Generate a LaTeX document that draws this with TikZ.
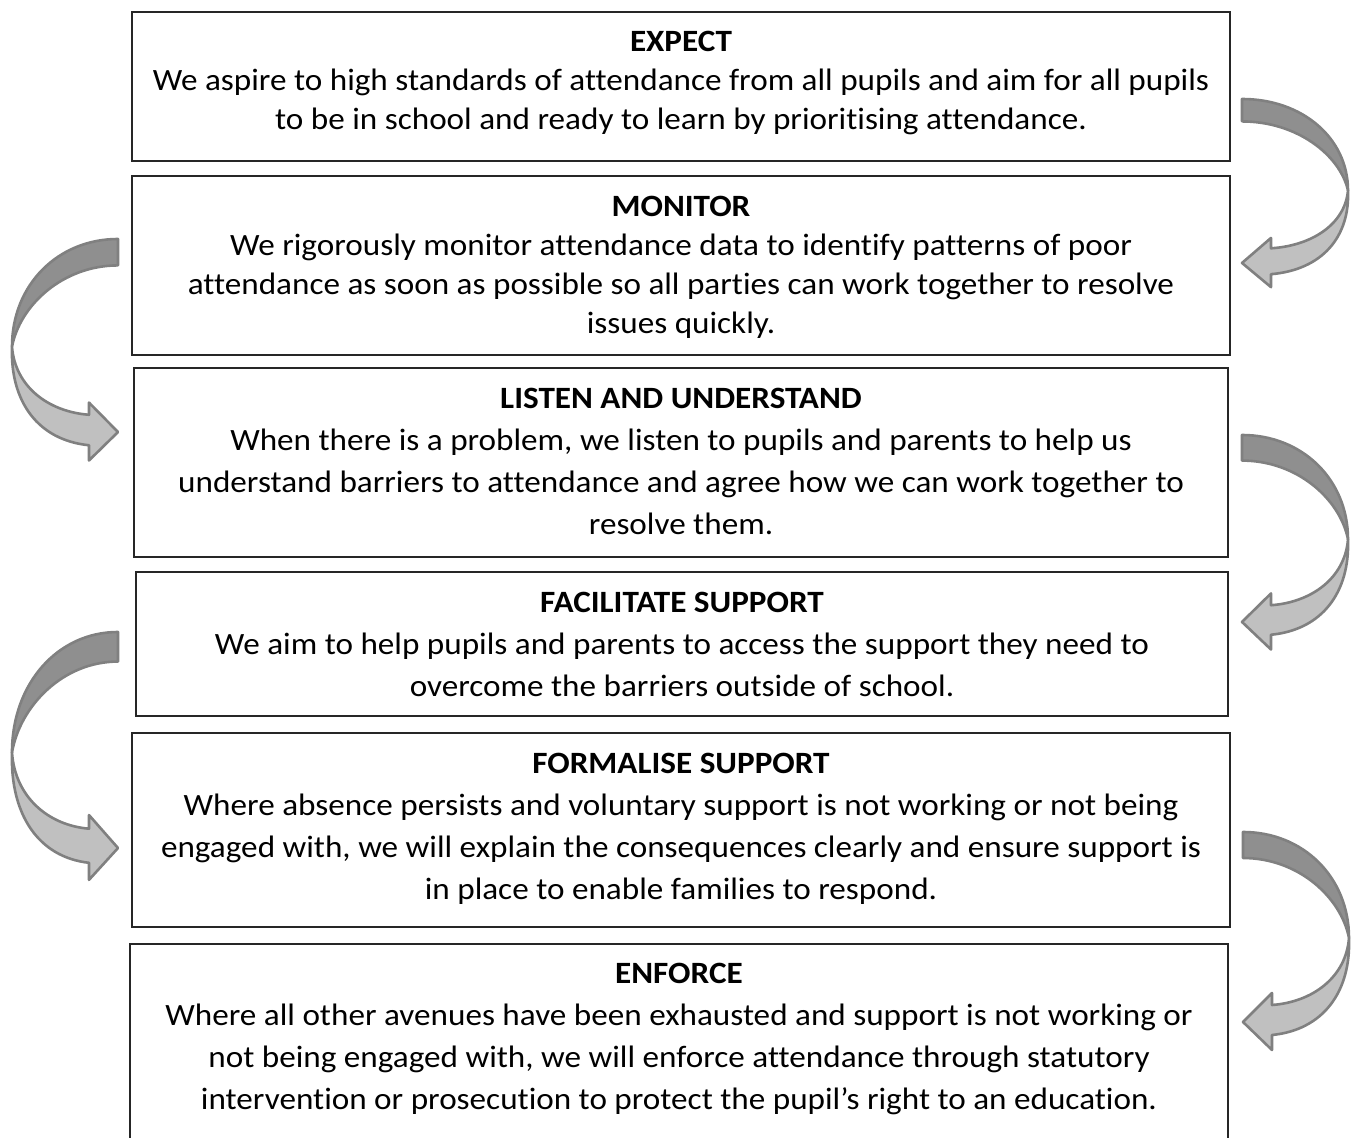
\documentclass[tikz,border=0pt]{standalone}
\usepackage{fontspec}
\setmainfont[FakeStretch=1.07, Ligatures=CommonOff]{Carlito}
\usepackage{tikz}
\usetikzlibrary{positioning}
\definecolor{arrowdark}{RGB}{143,143,143}
\definecolor{arrowlight}{RGB}{192,192,192}
\definecolor{arrowline}{RGB}{128,128,128}
\tikzset{stagebox/.style={draw=black!85, line width=0.6pt, rectangle, inner sep=0pt}}
\tikzset{stagetext/.style={align=center, inner sep=0pt, anchor=base, text=black}}
\tikzset{tight/.style={font=\fontsize{15.5}{19.5}\selectfont}}
\tikzset{loose/.style={font=\fontsize{15.5}{21}\selectfont}}
\tikzset{bendpart/.style={draw=arrowline, line width=1.3pt, line join=round}}
% #1 = +1 right side, -1 left side; #2 = tail top; #3 = yscale
\newcommand{\bendarrow}[3]{%
\begin{scope}[shift={#2}, xscale=#1, yscale=#3]
	\draw [bendpart, fill=arrowlight] (106,106) .. controls (103,145) and (70,170) .. (29,173) -- (29,161) -- (0,190) -- (29,218) -- (29,203) .. controls (80,198) and (108,160) .. (106,106) -- cycle;
	\draw [bendpart, fill=arrowdark] (0,0) .. controls (60,0) and (106,45) .. (106,106) .. controls (98,65) and (55,26) .. (0,26) -- cycle;
\end{scope}}

\begin{document}
\begin{tikzpicture}[x=0.5pt, y=-0.5pt]
	\useasboundingbox (0,0) rectangle (1357,1138);
	% boxes
	\node [stagebox, minimum width=549pt, minimum height=74.5pt] (expect) at (681,86.5) {};
	\node [stagebox, minimum width=549pt, minimum height=89.5pt] (monitor) at (681,265.5) {};
	\node [stagebox, minimum width=547pt, minimum height=94.5pt] (listen) at (681,462.5) {};
	\node [stagebox, minimum width=546pt, minimum height=72pt] (facilitate) at (682,644) {};
	\node [stagebox, minimum width=549pt, minimum height=97pt] (formalise) at (681,830) {};
	\node [stagebox, minimum width=549pt, minimum height=103pt] (enforce) at (679,1047) {};
	% texts (base = last line)
	\node [stagetext, tight] (expecttext) at ([yshift=-59pt]expect.north) {\textbf{EXPECT}\\
		We aspire to high standards of attendance from all pupils and aim for all pupils\\
		to be in school and ready to learn by prioritising attendance.};
	\node [stagetext, tight] (monitortext) at ([yshift=-79pt]monitor.north) {\textbf{MONITOR}\\
		We rigorously monitor attendance data to identify patterns of poor\\
		attendance as soon as possible so all parties can work together to resolve\\
		issues quickly.};
	\node [stagetext, loose] (listentext) at ([yshift=-83.5pt]listen.north) {\textbf{LISTEN AND UNDERSTAND}\\
		When there is a problem, we listen to pupils and parents to help us\\
		understand barriers to attendance and agree how we can work together to\\
		resolve them.};
	\node [stagetext, loose] (facilitatetext) at ([yshift=-62.5pt]facilitate.north) {\textbf{FACILITATE SUPPORT}\\
		We aim to help pupils and parents to access the support they need to\\
		overcome the barriers outside of school.};
	\node [stagetext, loose] (formalisetext) at ([yshift=-83.5pt]formalise.north) {\textbf{FORMALISE SUPPORT}\\
		Where absence persists and voluntary support is not working or not being\\
		engaged with, we will explain the consequences clearly and ensure support is\\
		in place to enable families to respond.};
	\node [stagetext, loose] (enforcetext) at ([yshift=-83pt]enforce.north) {\textbf{ENFORCE}\\
		Where all other avenues have been exhausted and support is not working or\\
		not being engaged with, we will enforce attendance through statutory\\
		intervention or prosecution to protect the pupil’s right to an education.};
	% bent arrows
	\bendarrow{1}{(1242,99)}{0.863}
	\bendarrow{-1}{(118,239)}{1.016}
	\bendarrow{1}{(1242,435)}{0.984}
	\bendarrow{-1}{(118,632)}{1.137}
	\bendarrow{1}{(1243,832)}{1}
\end{tikzpicture}
\end{document}
